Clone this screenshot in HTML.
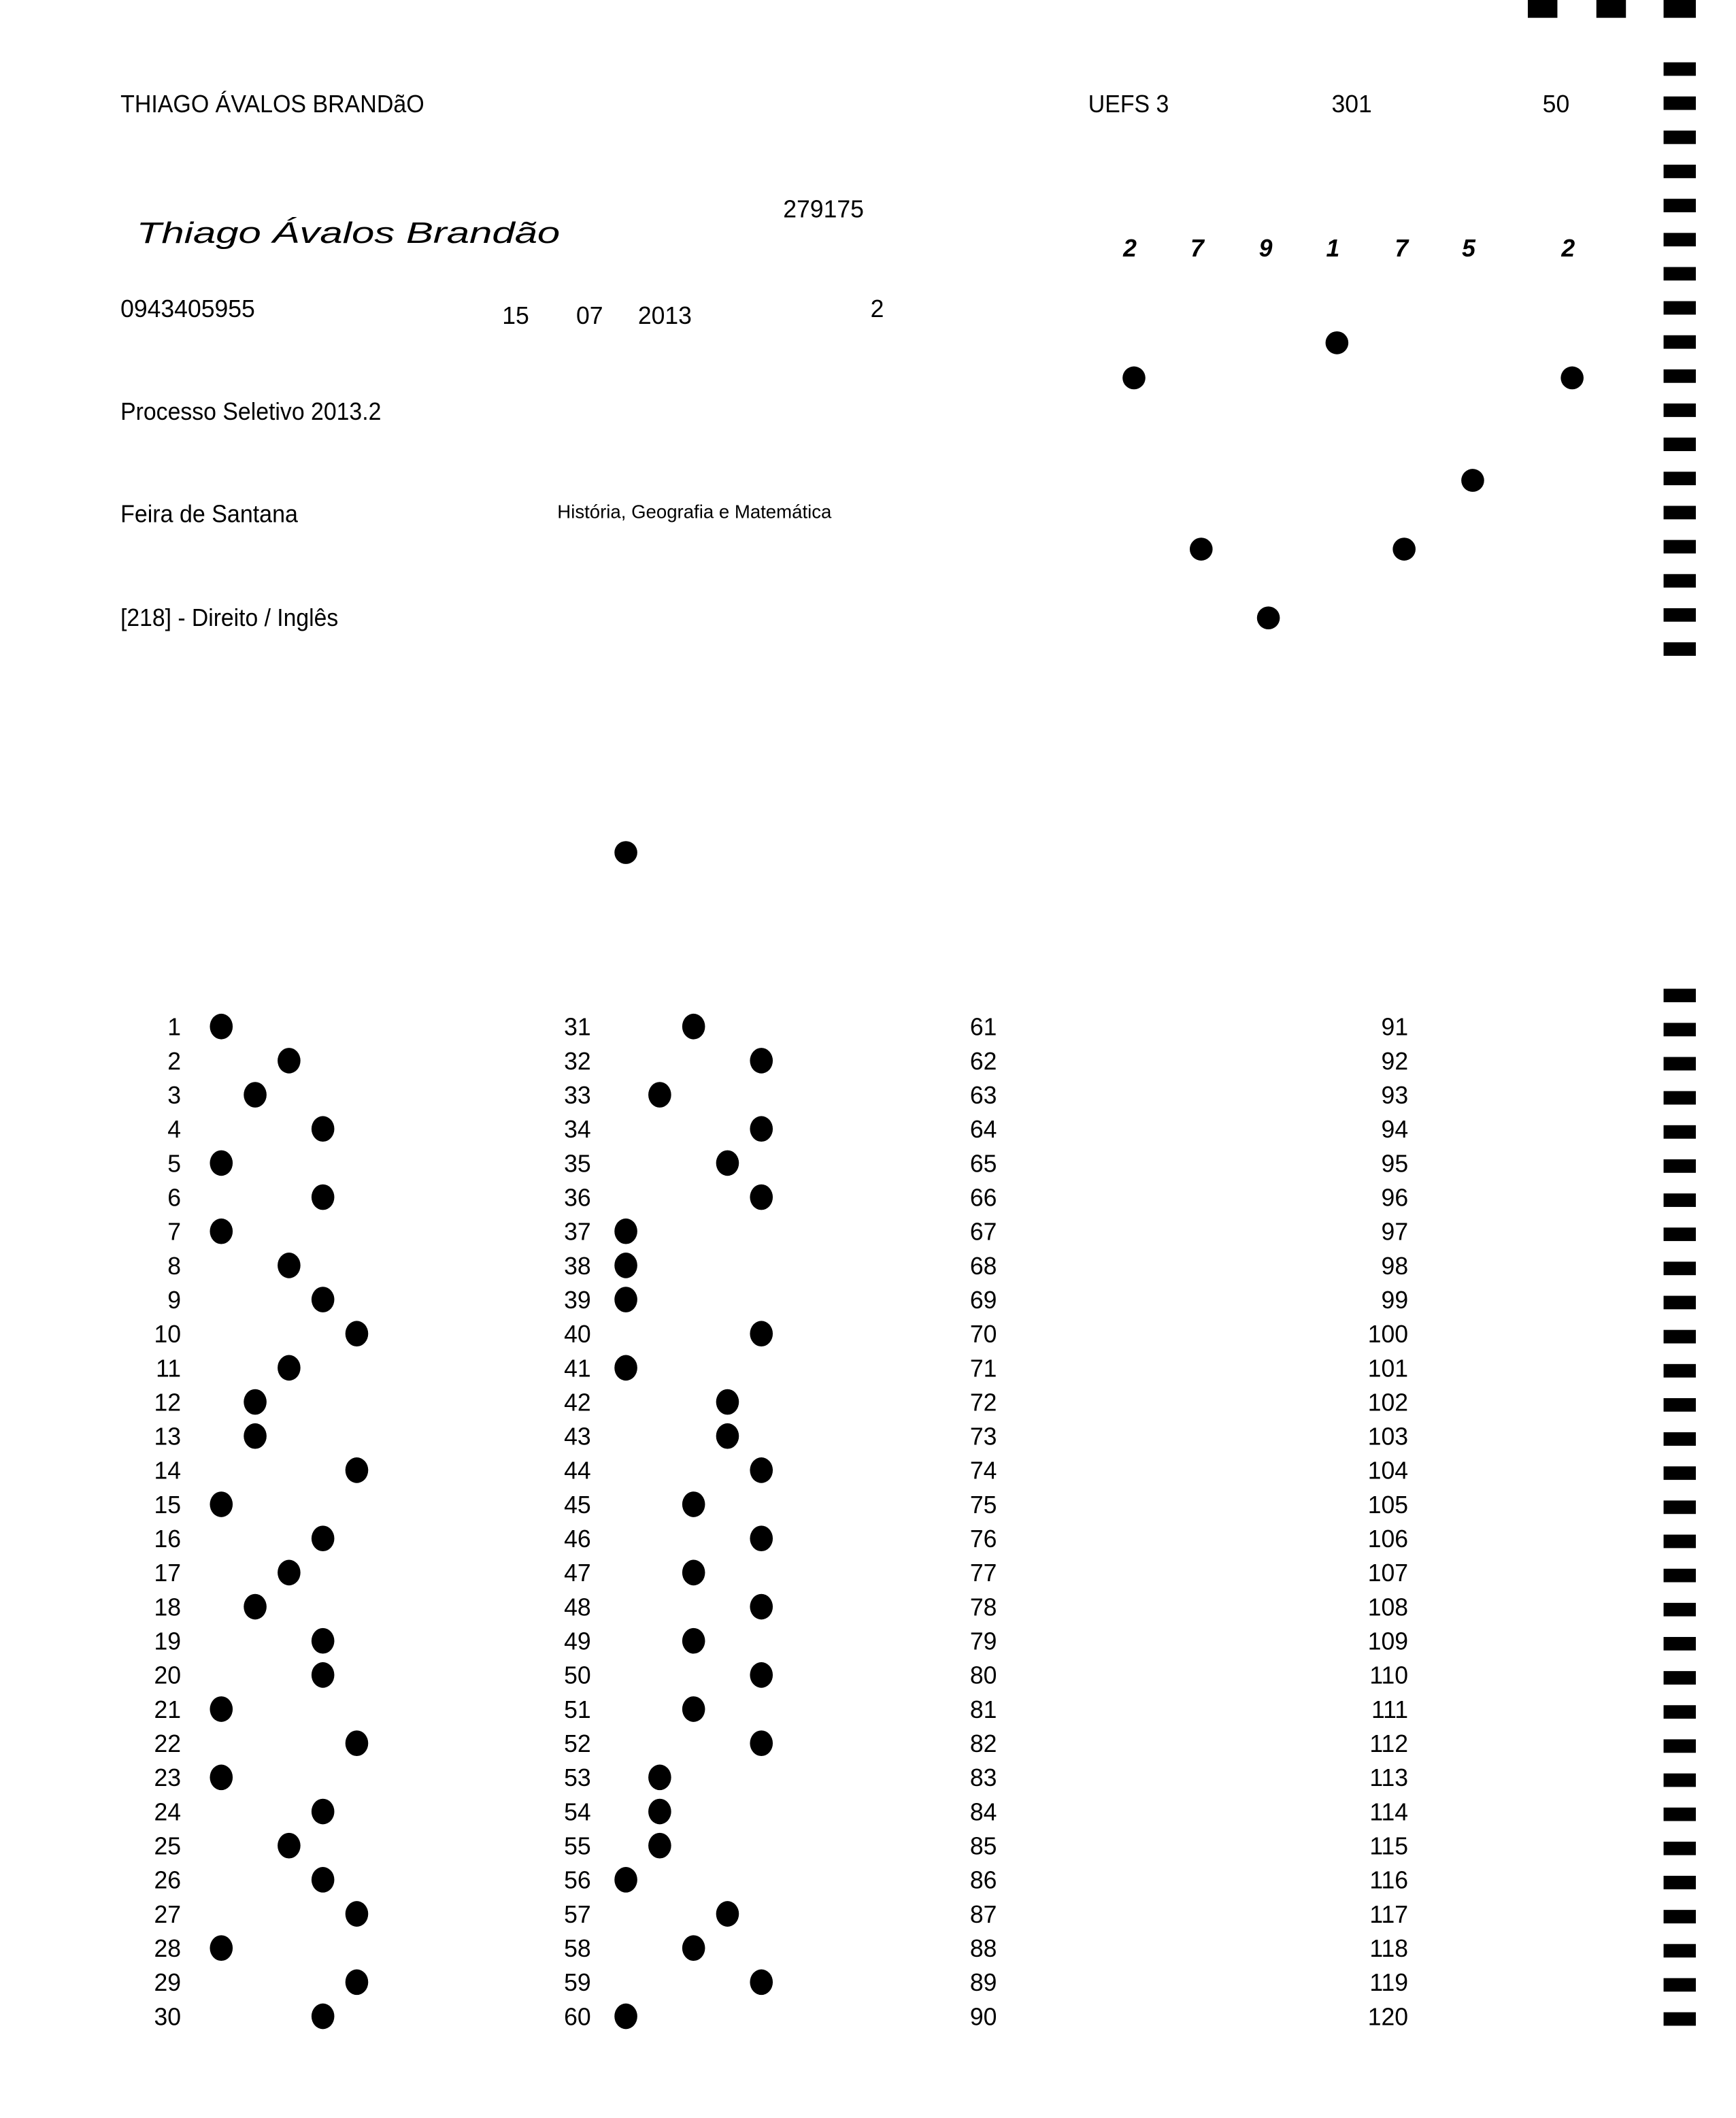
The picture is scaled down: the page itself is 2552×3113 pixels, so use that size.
<!DOCTYPE html>
<html><head><meta charset="utf-8"><style>
html,body{margin:0;padding:0;background:#fff;}
svg{display:block;}
text{font-family:"Liberation Sans",sans-serif;fill:#000;}
</style></head><body>
<svg id="sheet" width="2552" height="3113" viewBox="0 0 1276 1556.5" preserveAspectRatio="none" xmlns="http://www.w3.org/2000/svg">
<rect width="1276" height="1556.5" fill="#fff"/>
<g transform="translate(1.6,2.2) scale(0.988,0.991)">
<g id="marks">
<rect x="1135" y="-5" width="22" height="16" fill="#000"/>
<rect x="1186" y="-5" width="22" height="16" fill="#000"/>
<rect x="1236" y="-5" width="24" height="16" fill="#000"/>
</g>
<g font-size="18">
<text x="88" y="81" textLength="226" lengthAdjust="spacingAndGlyphs">THIAGO ÁVALOS BRANDãO</text>
<text x="808" y="81" textLength="60" lengthAdjust="spacingAndGlyphs">UEFS 3</text>
<text x="989" y="81">301</text>
<text x="1146" y="81">50</text>
<text x="100" y="178" font-family="Liberation Serif,serif" font-style="italic" font-size="22" textLength="315" lengthAdjust="spacingAndGlyphs">Thiago Ávalos Brandão</text>
<text x="581" y="159">279175</text>
<text x="88" y="233">0943405955</text>
<text x="372" y="238">15</text>
<text x="427" y="238">07</text>
<text x="473" y="238">2013</text>
<text x="646" y="233">2</text>
<text x="88" y="309" textLength="194" lengthAdjust="spacingAndGlyphs">Processo Seletivo 2013.2</text>
<text x="88" y="385" textLength="132" lengthAdjust="spacingAndGlyphs">Feira de Santana</text>
<text x="413" y="382" font-size="14" textLength="204" lengthAdjust="spacingAndGlyphs">História, Geografia e Matemática</text>
<text x="88" y="462" textLength="162" lengthAdjust="spacingAndGlyphs">[218] - Direito / Inglês</text>
</g>
<g id="digits" font-size="18" font-weight="bold" font-style="italic" text-anchor="middle"></g>
<g id="idbubbles"></g>
<g id="answers"></g>
</g>
</svg>
<script>
var regDigits=["2","7","9","1","7","5","2"];
var regDigitX=[839,889,940,990,1041,1091,1165];
var answersCol1=["A","C","B","D","A","D","A","C","D","E","C","B","B","E","A","D","C","B","D","D","A","E","A","D","C","D","E","A","E","D"];
var answersCol2=["C","E","B","E","D","E","A","A","A","E","A","D","D","E","C","E","C","E","C","E","C","E","B","B","B","A","D","C","E","A"];
var options=["A","B","C","D","E"];
var NS="http://www.w3.org/2000/svg";
function mk(tag,attrs,parent){var e=document.createElementNS(NS,tag);for(var k in attrs)e.setAttribute(k,attrs[k]);parent.appendChild(e);return e;}
var dg=document.getElementById('digits');
regDigits.forEach(function(d,i){
  var t=mk('text',{x:regDigitX[i],y:188},dg);t.textContent=d;
  
  
});
var idb=document.getElementById('idbubbles');
var idPts=[[993,252],[842,278],[1168,278],[1094,354],[892,405],[1043,405],[942,456],[464,630]];
idPts.forEach(function(p){
  var c=mk('circle',{cx:p[0],cy:p[1],r:8.5,fill:'#000'},idb);
  
  
});
var mg=document.getElementById('marks');
function markY(i,y0){return y0+i*25.3;}
for(var i=0;i<18;i++){var r=mk('rect',{x:1236,y:markY(i,44),width:24,height:10,fill:'#000'},mg);
  
  }
for(var i=0;i<31;i++){var r=mk('rect',{x:1236,y:markY(i,731),width:24,height:10,fill:'#000'},mg);
  
  }
var ag=document.getElementById('answers');
var colNumRight=[133,438,740,1046];
var colOptX=[163,464];
function rowY(i){return 759+i*25.31;}
function optX(col,letter){return colOptX[col]+options.indexOf(letter)*25.2;}
for(var c=0;c<4;c++){
  for(var i=0;i<30;i++){
    var t=mk('text',{x:colNumRight[c],y:rowY(i)+6.5,'font-size':18,'text-anchor':'end'},ag);
    t.textContent=String(c*30+i+1);
    
    
  }
}
[answersCol1,answersCol2].forEach(function(arr,c){
  arr.forEach(function(a,i){
    var e=mk('ellipse',{cx:optX(c,a),cy:rowY(i),rx:8.5,ry:9.5,fill:'#000'},ag);
    
    
  });
});
</script>
</body></html>
